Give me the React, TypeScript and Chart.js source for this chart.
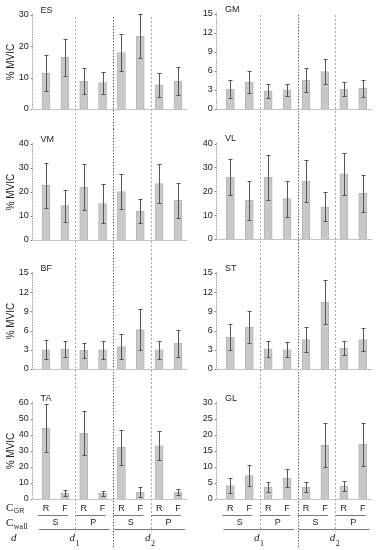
import React, { useEffect, useRef } from 'react';
import { Chart, registerables } from 'chart.js';

Chart.register(...registerables);

// ---------- data ----------
const categories = ['R', 'F', 'R', 'F', 'R', 'F', 'R', 'F'];
const wallLabels = ['S', 'P', 'S', 'P'];
const distanceLabels = ['1', '2'];

const panelNames = ['ES', 'GM', 'VM', 'VL', 'BF', 'ST', 'TA', 'GL'];

const esMean = [11.4, 16.5, 8.9, 8.4, 18.0, 23.3, 7.7, 8.9];
const esErr = [5.7, 5.9, 4.1, 3.5, 5.8, 7.1, 3.9, 4.4];
const gmMean = [3.15, 4.2, 2.85, 3.0, 4.55, 5.9, 3.15, 3.25];
const gmErr = [1.35, 1.7, 1.05, 0.95, 1.95, 1.95, 1.15, 1.35];
const vmMean = [22.8, 14.3, 22.1, 15.2, 20.2, 12.0, 23.5, 16.6];
const vmErr = [9.3, 6.6, 9.5, 8.0, 7.2, 5.0, 8.2, 7.3];
const vlMean = [25.9, 16.2, 25.8, 16.9, 24.3, 13.5, 27.3, 19.1];
const vlErr = [7.5, 8.1, 9.5, 7.5, 8.9, 6.0, 8.8, 7.9];
const bfMean = [3.0, 3.1, 2.9, 3.0, 3.5, 6.15, 3.0, 4.0];
const bfErr = [1.5, 1.2, 1.15, 1.4, 2.0, 3.15, 1.4, 2.1];
const stMean = [4.95, 6.55, 3.15, 3.0, 4.6, 10.45, 3.25, 4.6];
const stErr = [2.05, 2.45, 1.2, 1.2, 1.95, 3.4, 1.1, 1.85];
const taMean = [44.2, 3.8, 41.2, 3.5, 32.3, 4.2, 33.3, 4.2];
const taErr = [15.0, 2.0, 14.0, 1.5, 10.8, 3.0, 9.2, 1.8];
const glMean = [4.2, 7.3, 3.75, 6.45, 3.75, 16.8, 4.05, 17.1];
const glErr = [2.3, 3.3, 1.55, 2.8, 1.55, 6.9, 1.55, 6.8];

const axisMax = [30, 15, 40, 40, 15, 15, 60, 30];
const axisStep = [10, 3, 10, 10, 3, 3, 10, 5];

const panelMeans = [esMean, gmMean, vmMean, vlMean, bfMean, stMean, taMean, glMean];
const panelErrs = [esErr, gmErr, vmErr, vlErr, bfErr, stErr, taErr, glErr];

// ---------- layout ----------
const COL_W = 188;
const rowTop = [0, 129, 258, 387];
const rowH = [129, 129, 129, 163];
const areaTop = [
  [15, 15, 15, 16],
  [13, 14.5, 15, 16],
];
const areaBottom = [
  [109, 111, 111, 112],
  [109, 110, 111, 112],
];
const axisW = [36.6, 32.9];
const padRight = [0.6, 3.8];

const SANS = '"Liberation Sans", Arial, sans-serif';
const SERIF = '"Liberation Serif", "Times New Roman", serif';
const TXT = '#222';

interface PanelProps {
  idx: number;
}

function Panel({ idx }: PanelProps) {
  const ref = useRef<HTMLCanvasElement | null>(null);
  const col = idx % 2;
  const row = Math.floor(idx / 2);
  const h = rowH[row];
  const isBottom = row === 3;
  const aTop = areaTop[col][row];
  const aBottom = areaBottom[col][row];

  useEffect(() => {
    if (!ref.current) return;
    const means = panelMeans[idx];
    const errs = panelErrs[idx];
    const name = panelNames[idx];

    const decor = {
      id: 'decor' + idx,
      beforeDatasetsDraw(chart: any) {
        const { ctx, chartArea } = chart;
        const x = chart.scales.x;
        const y = chart.scales.y;
        ctx.save();
        // group separators
        [1, 3, 5].forEach((i) => {
          const xp = Math.round((x.getPixelForValue(i) + x.getPixelForValue(i + 1)) / 2 + 1) + 0.5;
          const mid = i === 3;
          const y0 = row === 0 ? (col === 0 ? 17 : 15) : 0;
          const y1 = isBottom ? (mid ? 161 : 145) : h;
          ctx.beginPath();
          ctx.strokeStyle = mid ? '#666' : '#a8a8a8';
          ctx.lineWidth = 1;
          ctx.setLineDash(mid ? [1.5, 1.5] : [2, 2]);
          ctx.moveTo(xp, y0);
          ctx.lineTo(xp, y1);
          ctx.stroke();
        });
        ctx.setLineDash([]);
        // y axis line
        const ax = Math.round(chartArea.left - 4.7) + 0.5;
        const yTop = y.getPixelForValue(y.max);
        const yZero = y.getPixelForValue(0);
        ctx.strokeStyle = '#a0a0a0';
        ctx.setLineDash([1.5, 1]);
        ctx.beginPath();
        ctx.moveTo(ax, yTop - 1);
        ctx.lineTo(ax, yZero);
        ctx.stroke();
        ctx.setLineDash([]);
        ctx.strokeStyle = '#888';
        y.ticks.forEach((t: any) => {
          const ty = Math.round(y.getPixelForValue(t.value)) + 0.5;
          ctx.beginPath();
          ctx.moveTo(ax - 2, ty);
          ctx.lineTo(ax, ty);
          ctx.stroke();
        });
        // baseline
        ctx.strokeStyle = '#c4c4c4';
        ctx.beginPath();
        const by = Math.round(yZero) + 0.5;
        ctx.moveTo(ax, by);
        ctx.lineTo(chartArea.right, by);
        ctx.stroke();
        ctx.restore();
      },
      afterDatasetsDraw(chart: any) {
        const { ctx, chartArea } = chart;
        const x = chart.scales.x;
        const y = chart.scales.y;
        ctx.save();
        // error bars
        ctx.strokeStyle = '#555';
        ctx.lineWidth = 1;
        const meta = chart.getDatasetMeta(0);
        meta.data.forEach((bar: any, i: number) => {
          const xc = Math.round(bar.x) + 0.5;
          const yt = Math.round(y.getPixelForValue(means[i] + errs[i])) + 0.5;
          const yb = Math.round(y.getPixelForValue(Math.max(0, means[i] - errs[i]))) + 0.5;
          ctx.beginPath();
          ctx.moveTo(xc, yt);
          ctx.lineTo(xc, yb);
          ctx.moveTo(xc - 2, yt);
          ctx.lineTo(xc + 2, yt);
          ctx.moveTo(xc - 2, yb);
          ctx.lineTo(xc + 2, yb);
          ctx.stroke();
        });
        // panel name
        ctx.fillStyle = TXT;
        ctx.font = `9px ${SANS}`;
        ctx.textBaseline = 'middle';
        ctx.textAlign = 'left';
        ctx.fillText(name, chartArea.left + 4, chartArea.top - 4.5);

        if (isBottom) {
          const px = (i: number) => x.getPixelForValue(i);
          // pair underlines + wall labels
          ctx.strokeStyle = '#777';
          ctx.lineWidth = 1;
          for (let p = 0; p < 4; p++) {
            const a = px(2 * p);
            const b = px(2 * p + 1);
            ctx.beginPath();
            ctx.moveTo(a - 8, 128.5);
            ctx.lineTo(b + 3, 128.5);
            ctx.stroke();
            ctx.fillStyle = TXT;
            ctx.font = `9px ${SANS}`;
            ctx.textAlign = 'center';
            ctx.textBaseline = 'middle';
            ctx.fillText(wallLabels[p], (a + b) / 2, 135.5);
          }
          // distance underlines + labels
          for (let g = 0; g < 2; g++) {
            const a = px(4 * g);
            const b = px(4 * g + 3);
            ctx.beginPath();
            ctx.moveTo(a - 7, 142.5);
            ctx.lineTo(b + 7, 142.5);
            ctx.stroke();
            ctx.font = `italic 11px ${SERIF}`;
            const wd = ctx.measureText('d').width;
            ctx.font = `8px ${SERIF}`;
            const ws = ctx.measureText(distanceLabels[g]).width;
            const start = (a + b) / 2 - (wd + ws) / 2;
            ctx.textAlign = 'left';
            ctx.fillStyle = TXT;
            ctx.font = `italic 11px ${SERIF}`;
            ctx.fillText('d', start, 151);
            ctx.font = `8px ${SERIF}`;
            ctx.fillText(distanceLabels[g], start + wd + 0.5, 157);
          }
          if (col === 0) {
            ctx.textAlign = 'left';
            ctx.textBaseline = 'middle';
            ctx.fillStyle = TXT;
            ctx.font = `11px ${SERIF}`;
            const wc = ctx.measureText('C').width;
            ctx.fillText('C', 6, 121.5);
            ctx.font = `7px ${SANS}`;
            ctx.fillText('GR', 6 + wc + 0.5, 124);
            ctx.font = `11px ${SERIF}`;
            ctx.fillText('C', 6, 136.5);
            ctx.font = `8px ${SERIF}`;
            ctx.fillText('wall', 6 + wc + 0.5, 140);
            ctx.font = `italic 11px ${SERIF}`;
            ctx.fillText('d', 11, 151);
          }
        }
        ctx.restore();
      },
    };

    const xScale: any = {
      type: 'category',
      offset: true,
      display: isBottom,
      grid: { display: false, drawTicks: false },
      border: { display: false },
      ticks: {
        font: { family: SANS, size: 9 },
        color: TXT,
        padding: 4.5,
        maxRotation: 0,
        autoSkip: false,
      },
    };
    if (isBottom) {
      xScale.afterFit = (s: any) => {
        s.height = h - aBottom;
      };
    }

    const chart = new Chart(ref.current, {
      type: 'bar',
      data: {
        labels: categories,
        datasets: [
          {
            data: means,
            backgroundColor: '#c8c8c8',
            borderColor: '#b6b6b6',
            borderWidth: 1,
            barThickness: 8,
          },
        ],
      },
      options: {
        responsive: false,
        maintainAspectRatio: false,
        animation: false,
        layout: {
          padding: {
            left: 0,
            right: padRight[col],
            top: aTop,
            bottom: isBottom ? 0 : h - aBottom,
          },
        },
        plugins: {
          legend: { display: false },
          tooltip: { enabled: false },
          title: { display: false },
        },
        scales: {
          x: xScale,
          y: {
            min: 0,
            max: axisMax[idx],
            grid: { display: false, drawTicks: false },
            border: { display: false },
            ticks: {
              stepSize: axisStep[idx],
              font: { family: SANS, size: 9 },
              color: TXT,
              padding: col === 0 ? 7.8 : 8.2,
            },
            title: {
              display: col === 0,
              text: '% MVIC',
              font: { family: SANS, size: 10 },
              color: TXT,
              padding: { top: 5, bottom: 0 },
            },
            afterFit: (s: any) => {
              s.width = axisW[col];
            },
          },
        },
      } as any,
      plugins: [decor],
    });
    return () => chart.destroy();
  }, [idx]);

  return (
    <canvas
      ref={ref}
      width={COL_W}
      height={h}
      style={{
        position: 'absolute',
        left: col * COL_W,
        top: rowTop[row],
        width: COL_W,
        height: h,
        display: 'block',
      }}
    />
  );
}

export default function App() {
  return (
    <div
      style={{
        position: 'absolute',
        left: 0,
        top: 0,
        width: 376,
        height: 550,
        background: '#fff',
        overflow: 'hidden',
      }}
    >
      {panelNames.map((_, i) => (
        <Panel key={i} idx={i} />
      ))}
    </div>
  );
}
